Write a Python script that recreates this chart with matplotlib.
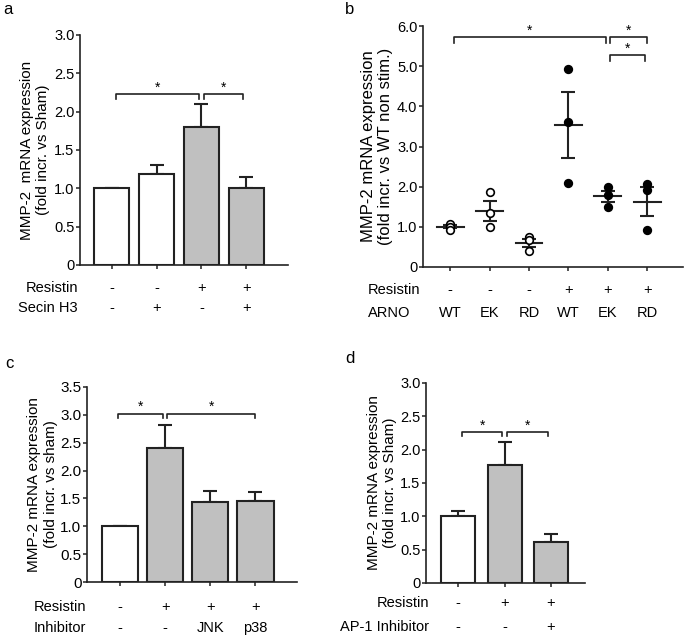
import matplotlib
matplotlib.use("Agg")
import matplotlib.pyplot as plt
import numpy as np

plt.rcParams["font.family"] = ["Liberation Sans", "DejaVu Sans"]

# Panel a
a_vals = [1.0, 1.19, 1.80, 1.0]
a_err = [0.0, 0.12, 0.30, 0.15]
a_fill = ["white", "white", "#c0c0c0", "#c0c0c0"]
a_resistin = ["-", "-", "+", "+"]
a_secin = ["-", "+", "-", "+"]

# Panel b (individual points)
b_points = [
    [1.06, 1.0, 0.93],
    [1.86, 1.34, 0.99],
    [0.74, 0.66, 0.39],
    [4.92, 3.61, 2.08],
    [1.99, 1.79, 1.49],
    [2.06, 1.91, 0.91],
]
b_resistin = ["-", "-", "-", "+", "+", "+"]
b_arno = ["WT", "EK", "RD", "WT", "EK", "RD"]

# Panel c
c_vals = [1.0, 2.40, 1.43, 1.45]
c_err = [0.0, 0.41, 0.20, 0.16]
c_fill = ["white", "#c0c0c0", "#c0c0c0", "#c0c0c0"]
c_resistin = ["-", "+", "+", "+"]
c_inhib = ["-", "-", "JNK", "p38"]

# Panel d
d_vals = [1.0, 1.77, 0.62]
d_err = [0.08, 0.34, 0.12]
d_fill = ["white", "#c0c0c0", "#c0c0c0"]
d_resistin = ["-", "+", "+"]
d_ap1 = ["-", "-", "+"]

W, H = 685, 635
fig = plt.figure(figsize=(W / 100, H / 100), dpi=100)


def axes_px(left, top, right, bottom):
    return fig.add_axes([left / W, 1 - bottom / H, (right - left) / W, (bottom - top) / H])


def style(ax, fs):
    for s in ["top", "right"]:
        ax.spines[s].set_visible(False)
    for s in ["left", "bottom"]:
        ax.spines[s].set_linewidth(1.2)
        ax.spines[s].set_color("#222222")
    ax.tick_params(axis="y", length=3, width=1.1, labelsize=fs, pad=1, color="#222222")
    ax.tick_params(axis="x", length=3, width=1.1, labelbottom=False, color="#222222")


def bracket(ax, x1, x2, y, d, star_px=2):
    ax.plot([x1, x1, x2, x2], [y - d, y, y, y - d], color="#222222", lw=1.2, clip_on=False)
    ax.annotate("*", xy=((x1 + x2) / 2, y), xytext=(0, star_px * 0.72),
                textcoords="offset points", ha="center", va="baseline", fontsize=10)


def signs(ax, labels, off_px, fs=10.5):
    for i, s in enumerate(labels):
        ax.annotate(s, xy=(i, 0), xycoords=ax.get_xaxis_transform(),
                    xytext=(0, -off_px * 0.72), textcoords="offset points",
                    ha="center", va="center", fontsize=fs)


def bars(ax, vals, err, fill, width):
    x = np.arange(len(vals))
    ax.bar(x, vals, width=width, color=fill, edgecolor="#222222", linewidth=1.5, zorder=2)
    ax.errorbar(x, vals, yerr=[np.zeros(len(err)), err], fmt="none", ecolor="#222222",
                elinewidth=1.5, capsize=5, capthick=1.5, zorder=1)
    ax.set_xticks(x)


# ---- a ----
ax = axes_px(80, 35, 288, 265)
style(ax, 10.5)
bars(ax, a_vals, a_err, a_fill, 0.78)
ax.set_xlim(-0.71, 3.93)
ax.set_ylim(0, 3.0)
ax.set_yticks([0, 0.5, 1.0, 1.5, 2.0, 2.5, 3.0])
ax.set_yticklabels(["0", "0.5", "1.0", "1.5", "2.0", "2.5", "3.0"])
ax.set_ylabel("MMP-2  mRNA expression\n(fold incr. vs Sham)", fontsize=11, labelpad=3)
bracket(ax, 0.1, 1.95, 2.23, 0.06)
bracket(ax, 2.05, 2.93, 2.23, 0.06)
signs(ax, a_resistin, 23)
signs(ax, a_secin, 43)
fig.text(78 / W, 1 - 288 / H, "Resistin", ha="right", va="center", fontsize=10.5)
fig.text(78 / W, 1 - 308 / H, "Secin H3", ha="right", va="center", fontsize=10.5)
fig.text(3 / W, 1 - 9 / H, "a", ha="left", va="center", fontsize=12)

# ---- b ----
ax = axes_px(423, 26, 683, 267)
style(ax, 10.5)
xb = np.arange(len(b_points))
for i, pts in enumerate(b_points):
    pts = np.array(pts)
    m = pts.mean()
    sem = pts.std(ddof=1) / np.sqrt(len(pts))
    face = "white" if b_resistin[i] == "-" else "black"
    ax.plot(np.full(len(pts), i), pts, "o", ms=5.5, mfc=face, mec="black", mew=1.2, zorder=3)
    ax.plot([i - 0.34, i + 0.34], [m, m], color="#222222", lw=1.5, zorder=2)
    ax.errorbar(i, m, yerr=sem, fmt="none", ecolor="#222222", elinewidth=1.5,
                capsize=5, capthick=1.5, zorder=2)
ax.set_xticks(xb)
ax.set_xlim(-0.69, 5.91)
ax.set_ylim(0, 6.0)
ax.set_yticks([0, 1, 2, 3, 4, 5, 6])
ax.set_yticklabels(["0", "1.0", "2.0", "3.0", "4.0", "5.0", "6.0"])
ax.set_ylabel("MMP-2 mRNA expression\n(fold incr. vs WT non stim.)", fontsize=12, labelpad=3)
bracket(ax, 0.1, 3.95, 5.73, 0.15)
bracket(ax, 4.05, 5.0, 5.73, 0.15)
bracket(ax, 4.05, 4.95, 5.28, 0.15)
signs(ax, b_resistin, 23)
signs(ax, b_arno, 46)
fig.text(368 / W, 1 - 290 / H, "Resistin", ha="left", va="center", fontsize=10.5)
fig.text(368 / W, 1 - 313 / H, "ARNO", ha="left", va="center", fontsize=10.5)
fig.text(345 / W, 1 - 10 / H, "b", ha="left", va="center", fontsize=12)

# ---- c ----
ax = axes_px(87, 387, 297, 582)
style(ax, 11)
bars(ax, c_vals, c_err, c_fill, 0.8)
ax.set_xlim(-0.73, 3.92)
ax.set_ylim(0, 3.5)
ax.set_yticks([0, 0.5, 1.0, 1.5, 2.0, 2.5, 3.0, 3.5])
ax.set_yticklabels(["0", "0.5", "1.0", "1.5", "2.0", "2.5", "3.0", "3.5"])
ax.set_ylabel("MMP-2 mRNA expression\n(fold incr. vs sham)", fontsize=11, labelpad=2)
bracket(ax, -0.05, 0.95, 3.02, 0.08, 3)
bracket(ax, 1.05, 3.0, 3.02, 0.08, 3)
signs(ax, c_resistin, 25)
signs(ax, c_inhib, 46)
fig.text(86 / W, 1 - 607 / H, "Resistin", ha="right", va="center", fontsize=10.5)
fig.text(86 / W, 1 - 628 / H, "Inhibitor", ha="right", va="center", fontsize=10.5)
fig.text(5 / W, 1 - 363 / H, "c", ha="left", va="center", fontsize=12)

# ---- d ----
ax = axes_px(426, 383, 585, 583)
style(ax, 10.5)
bars(ax, d_vals, d_err, d_fill, 0.73)
ax.set_xlim(-0.69, 2.73)
ax.set_ylim(0, 3.0)
ax.set_yticks([0, 0.5, 1.0, 1.5, 2.0, 2.5, 3.0])
ax.set_yticklabels(["0", "0.5", "1.0", "1.5", "2.0", "2.5", "3.0"])
ax.set_ylabel("MMP-2 mRNA expression\n(fold incr. vs Sham)", fontsize=11, labelpad=2)
bracket(ax, 0.08, 0.95, 2.27, 0.06)
bracket(ax, 1.05, 1.93, 2.27, 0.06)
signs(ax, d_resistin, 20)
signs(ax, d_ap1, 44)
fig.text(429 / W, 1 - 603 / H, "Resistin", ha="right", va="center", fontsize=10.5)
fig.text(429 / W, 1 - 627 / H, "AP-1 Inhibitor", ha="right", va="center", fontsize=10.5)
fig.text(345 / W, 1 - 359 / H, "d", ha="left", va="center", fontsize=12)

fig.savefig("out.png", dpi=100, facecolor="white")
